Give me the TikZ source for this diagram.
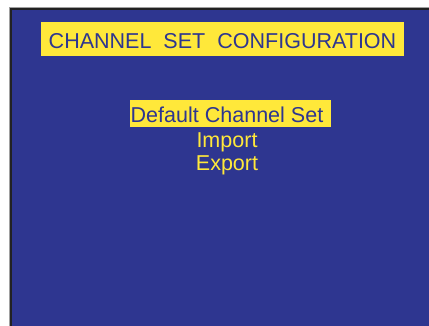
\documentclass[tikz,border=0pt]{standalone}
\usepackage{fontspec}
\setmainfont{Liberation Sans}
\definecolor{scrblue}{HTML}{2E3690}
\definecolor{scryellow}{HTML}{FFE83A}
\definecolor{frameDark}{HTML}{222222}
\definecolor{frameGray}{HTML}{A0A0A0}
\tikzset{
  menutext/.style={font=\fontsize{21.6}{24}\selectfont, inner sep=0pt, anchor=base},
  hilite/.style={fill=scryellow, text=scrblue},
  plain/.style={text=scryellow}
}
\begin{document}
\begin{tikzpicture}[x=1bp,y=-1bp]
\useasboundingbox (0,0) rectangle (429,326);
\fill[white] (0,0) rectangle (429,326);
\fill[frameGray] (8.5,6.5) rectangle (429,326);
\fill[frameDark] (9.5,7.5) rectangle (429,326);
\fill[scrblue] (11.5,10) rectangle (429,326);
% title
\fill[scryellow] (41,22) rectangle (404,56);
\node[menutext, text=scrblue] (title) at (222.5,48) {CHANNEL\ \ SET\ \ CONFIGURATION};
% menu
\fill[scryellow] (130,100) rectangle (331,127);
\node[menutext, text=scrblue] (def) at (227,122) {Default Channel Set};
\node[menutext, plain] (imp) at (227,147.5) {Import};
\node[menutext, plain] (exp) at (227,170.5) {Export};
\end{tikzpicture}
\end{document}
